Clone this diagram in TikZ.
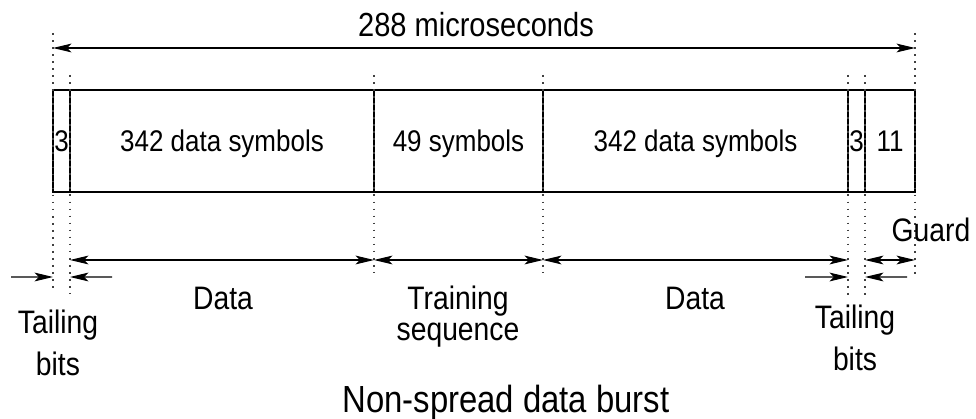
\documentclass[tikz,border=0pt]{standalone}
\usepackage{fontspec}
\setmainfont{Liberation Sans}[FakeStretch=0.87]
\usetikzlibrary{arrows.meta}

\begin{document}
\begin{tikzpicture}[
    field/.style={rectangle, draw=black, line width=0.7pt, minimum height=2.04cm, inner sep=0pt, outer sep=0pt, text depth=0pt, font=\fontsize{17}{20}\selectfont},
    guide/.style={draw=black!75, line width=0.6pt, dash pattern=on 1pt off 3pt},
    dimension/.style={<->, >={Stealth[length=10.5pt,width=5pt,inset=2.5pt]}, line width=0.6pt},
    pointer/.style={->, >={Stealth[length=10.5pt,width=5pt,inset=2.5pt]}, line width=0.6pt},
    dimtext/.style={inner sep=0pt, font=\fontsize{18.5}{22}\selectfont},
    headline/.style={inner sep=0pt, font=\fontsize{21.5}{26}\selectfont}
]
\useasboundingbox (0,0) rectangle (19.52,-8.38);

% Burst fields
\node[field, minimum width=0.34cm] (tail1) at (1.23,-2.82) {3};
\node[field, minimum width=6.08cm] (data1) at (4.44,-2.82) {342 data symbols};
\node[field, minimum width=3.38cm] (train) at (9.17,-2.82) {49 symbols};
\node[field, minimum width=6.10cm] (data2) at (13.91,-2.82) {342 data symbols};
\node[field, minimum width=0.34cm] (tail2) at (17.13,-2.82) {3};
\node[field, minimum width=1.00cm] (guard) at (17.80,-2.82) {11};

% Guide lines
\draw[guide] ([yshift=1.14cm]tail1.north west) -- ([yshift=-2.00cm]tail1.south west);
\draw[guide] ([yshift=0.30cm]tail1.north east) -- ([yshift=-2.02cm]tail1.south east);
\draw[guide] ([yshift=0.30cm]data1.north east) -- ([yshift=-1.62cm]data1.south east);
\draw[guide] ([yshift=0.30cm]train.north east) -- ([yshift=-1.62cm]train.south east);
\draw[guide] ([yshift=0.30cm]data2.north east) -- ([yshift=-2.06cm]data2.south east);
\draw[guide] ([yshift=0.30cm]tail2.north east) -- ([yshift=-2.06cm]tail2.south east);
\draw[guide] ([yshift=1.14cm]guard.north east) -- ([yshift=-1.70cm]guard.south east);

% Total length
\draw[dimension] ([yshift=0.84cm]tail1.north west) -- ([yshift=0.84cm]guard.north east);
\node[dimtext, anchor=base, font=\fontsize{19}{23}\selectfont] (total) at (9.52,-0.74) {288 microseconds};

% Field lengths
\draw[dimension] ([yshift=-1.36cm]data1.south west) -- ([yshift=-1.36cm]data1.south east);
\draw[dimension] ([yshift=-1.36cm]train.south west) -- ([yshift=-1.36cm]train.south east);
\draw[dimension] ([yshift=-1.36cm]data2.south west) -- ([yshift=-1.36cm]data2.south east);
\draw[dimension] ([yshift=-1.36cm]guard.south west) -- ([yshift=-1.36cm]guard.south east);

% Tailing bits
\coordinate (tl1) at (0.22,-5.54);
\coordinate (tr1) at (2.24,-5.54);
\coordinate (tl2) at (16.10,-5.54);
\coordinate (tr2) at (18.14,-5.54);
\draw[pointer] (tl1) -- ([yshift=-1.70cm]tail1.south west);
\draw[pointer] (tr1) -- ([yshift=-1.70cm]tail1.south east);
\draw[pointer] (tl2) -- ([yshift=-1.70cm]tail2.south west);
\draw[pointer] (tr2) -- ([yshift=-1.70cm]tail2.south east);

% Labels
\node[dimtext, anchor=base] (datalbl1) at (4.46,-6.20) {Data};
\node[dimtext, align=center, font=\fontsize{18.5}{17.6}\selectfont] (trainlbl) at (9.16,-6.33) {Training\\sequence};
\node[dimtext, anchor=base] (datalbl2) at (13.90,-6.20) {Data};
\node[dimtext, align=center, font=\fontsize{18.5}{23.9}\selectfont] (taillbl1) at (1.16,-6.85) {Tailing\\bits};
\node[dimtext, align=center, font=\fontsize{18.5}{23.9}\selectfont] (taillbl2) at (17.10,-6.75) {Tailing\\bits};
\node[dimtext, anchor=base] (guardlbl) at (18.62,-4.84) {Guard};
\node[headline, anchor=base] (burst) at (10.12,-8.24) {Non-spread data burst};

\end{tikzpicture}
\end{document}
